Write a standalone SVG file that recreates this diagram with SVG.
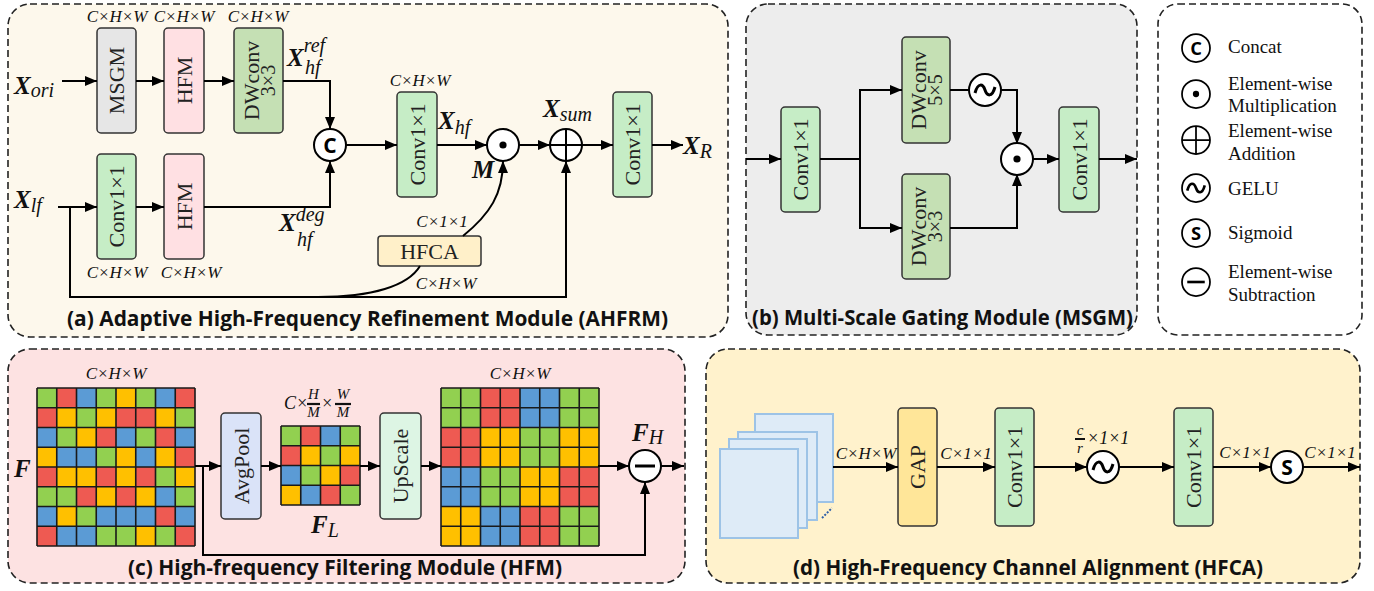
<svg xmlns="http://www.w3.org/2000/svg" xmlns:xlink="http://www.w3.org/1999/xlink" width="1374" height="591" viewBox="0 0 1374 591">
  <style>
    .pane{stroke:#222;stroke-width:1.6;stroke-dasharray:7 4}
    .box{stroke:#333;stroke-width:1.5}
    .conv{fill:#C6EDC6}
    .dw{fill:#C5E0B4}
    .hfm{fill:#FFE0E3}
    .gray{fill:#E6E6E6}
    .lbl{font-family:"Liberation Serif",serif;font-size:22px;fill:#222}
    .dim{font-family:"Liberation Serif",serif;font-style:italic;font-size:17px;fill:#111}
    .mx{font-family:"Liberation Serif",serif;font-style:italic;font-weight:bold;font-size:25px;fill:#111}
    .sub{font-weight:normal;font-size:20px}
    .ttl{font-family:"Open Sans",sans-serif;font-weight:700;font-size:21px;fill:#111}
    .leg{font-family:"Liberation Serif",serif;font-size:19px;fill:#111}
    .wire{fill:none;stroke:#000;stroke-width:2}
    .arr{marker-end:url(#ah)}
    .op{fill:#fff;stroke:#000;stroke-width:2}
    .g{fill:#92D050}.r{fill:#EE5A52}.b{fill:#5B9BD5}.y{fill:#FFC000}
    .grid{fill:none;stroke:#1a1a1a;stroke-width:1.6}
    .sheet{fill:#DEEBF7;stroke:#9DC3E6;stroke-width:2}
  </style>
  <defs>
    <marker id="ah" markerUnits="userSpaceOnUse" markerWidth="12" markerHeight="10" refX="12" refY="5" orient="auto">
      <path d="M0,0 L12,5 L0,10 z" fill="#000"/>
    </marker>
    <g id="o-cat"><circle class="op" r="16"/><text y="7.5" text-anchor="middle" font-family="Open Sans, sans-serif" font-weight="700" font-size="21">C</text></g>
    <g id="o-mul"><circle class="op" r="16"/><circle r="3.6" fill="#000"/></g>
    <g id="o-add"><circle class="op" r="16"/><path d="M-16 0H16M0 -16V16" stroke="#000" stroke-width="2"/></g>
    <g id="o-gelu"><circle class="op" r="16"/><path d="M-10 3C-7 -8 -2 -6 0 0C2 6 7 8 10 -3" fill="none" stroke="#000" stroke-width="3"/></g>
    <g id="o-sig"><circle class="op" r="16"/><text y="7.5" text-anchor="middle" font-family="Open Sans, sans-serif" font-weight="700" font-size="21">S</text></g>
    <g id="o-sub"><circle class="op" r="16"/><path d="M-10 0H10" stroke="#000" stroke-width="3"/></g>
    <path id="lines8" d="M0 0V158M19.75 0V158M39.5 0V158M59.25 0V158M79 0V158M98.75 0V158M118.5 0V158M138.25 0V158M158 0V158M0 0H158M0 19.75H158M0 39.5H158M0 59.25H158M0 79H158M0 98.75H158M0 118.5H158M0 138.25H158M0 158H158"/>
  </defs>

  <!-- panel backgrounds -->
  <rect class="pane" x="8" y="4" width="720" height="333" rx="22" fill="#FDF8EC"/>
  <rect class="pane" x="746" y="4" width="391" height="331" rx="22" fill="#EDEDED"/>
  <rect class="pane" x="1158" y="4" width="204" height="331" rx="20" fill="#fff"/>
  <rect class="pane" x="8" y="349" width="677" height="234" rx="22" fill="#FDE2E2"/>
  <rect class="pane" x="706" y="349" width="654" height="234" rx="22" fill="#FFF2CC"/>

  <!-- (a) AHFRM -->
  <g id="a-msgm"><rect class="box gray" x="97" y="28" width="39" height="105" rx="4"/><text class="lbl" text-anchor="middle" dominant-baseline="central" transform="translate(116.5,80.5) rotate(-90)">MSGM</text><text class="dim" x="117" y="22" text-anchor="middle">C×H×W</text></g>
  <g id="a-hfm1"><rect class="box hfm" x="164" y="28" width="40" height="105" rx="4"/><text class="lbl" text-anchor="middle" dominant-baseline="central" transform="translate(184,80.5) rotate(-90)">HFM</text><text class="dim" x="184" y="22" text-anchor="middle">C×H×W</text></g>
  <g id="a-dw"><rect class="box dw" x="234" y="28" width="49" height="105" rx="4"/><text class="lbl" text-anchor="middle" dominant-baseline="central" transform="translate(258.5,80.5) rotate(-90)"><tspan x="0" y="-8">DWconv</tspan><tspan x="0" y="9" font-size="20">3×3</tspan></text><text class="dim" x="258" y="22" text-anchor="middle">C×H×W</text></g>
  <g id="a-conv1"><rect class="box conv" x="97" y="154" width="39" height="105" rx="4"/><text class="lbl" text-anchor="middle" dominant-baseline="central" transform="translate(116.5,206.5) rotate(-90)">Conv1×1</text><text class="dim" x="117" y="278" text-anchor="middle">C×H×W</text></g>
  <g id="a-hfm2"><rect class="box hfm" x="164" y="154" width="40" height="105" rx="4"/><text class="lbl" text-anchor="middle" dominant-baseline="central" transform="translate(184,206.5) rotate(-90)">HFM</text><text class="dim" x="191" y="278" text-anchor="middle">C×H×W</text></g>
  <g id="a-cat"><use href="#o-cat" x="330" y="145"/></g>
  <g id="a-conv2"><rect class="box conv" x="397" y="92" width="40" height="105" rx="4"/><text class="lbl" text-anchor="middle" dominant-baseline="central" transform="translate(417,144.5) rotate(-90)">Conv1×1</text><text class="dim" x="420" y="86" text-anchor="middle">C×H×W</text></g>
  <g id="a-mul"><use href="#o-mul" x="503" y="145"/></g>
  <g id="a-add"><use href="#o-add" x="566" y="145"/></g>
  <g id="a-conv3"><rect class="box conv" x="613" y="92" width="39" height="105" rx="4"/><text class="lbl" text-anchor="middle" dominant-baseline="central" transform="translate(632.5,144.5) rotate(-90)">Conv1×1</text></g>
  <g id="a-hfca"><rect class="box" x="378" y="236" width="103" height="30" rx="3" fill="#FFF0C9"/><text class="lbl" x="429.5" y="259" text-anchor="middle">HFCA</text><text class="dim" x="442" y="227" text-anchor="middle">C×1×1</text><text class="dim" x="446" y="289" text-anchor="middle">C×H×W</text></g>

  <!-- math labels (a) -->
  <text class="mx" x="14" y="94">X<tspan class="sub" dy="3">ori</tspan></text>
  <text class="mx" x="14" y="208">X<tspan class="sub" dy="4">lf</tspan></text>
  <text class="mx" x="287" y="66">X<tspan class="sub" dy="-14" font-size="19">ref</tspan><tspan class="sub" x="305" y="74" font-size="19">hf</tspan></text>
  <text class="mx" x="279" y="231">X<tspan class="sub" dy="-10" font-size="19">deg</tspan><tspan class="sub" x="297" y="246" font-size="19">hf</tspan></text>
  <text class="mx" x="438" y="129">X<tspan class="sub" dy="5">hf</tspan></text>
  <text class="mx" x="472" y="178" font-size="23">M</text>
  <text class="mx" x="543" y="117">X<tspan class="sub" dy="4">sum</tspan></text>
  <text class="mx" x="683" y="154">X<tspan class="sub" dy="4">R</tspan></text>
  <text class="ttl" x="67" y="326" textLength="601" lengthAdjust="spacingAndGlyphs">(a) Adaptive High-Frequency Refinement Module (AHFRM)</text>

  <!-- (b) MSGM -->
  <g id="b-conv1"><rect class="box conv" x="781" y="107" width="39" height="105" rx="4"/><text class="lbl" text-anchor="middle" dominant-baseline="central" transform="translate(800.5,159.5) rotate(-90)">Conv1×1</text></g>
  <g id="b-dw5"><rect class="box dw" x="902" y="37" width="48" height="106" rx="4"/><text class="lbl" text-anchor="middle" dominant-baseline="central" transform="translate(926,90) rotate(-90)"><tspan x="0" y="-8">DWconv</tspan><tspan x="0" y="9" font-size="20">5×5</tspan></text></g>
  <g id="b-dw3"><rect class="box dw" x="902" y="174" width="48" height="105" rx="4"/><text class="lbl" text-anchor="middle" dominant-baseline="central" transform="translate(926,226.5) rotate(-90)"><tspan x="0" y="-8">DWconv</tspan><tspan x="0" y="9" font-size="20">3×3</tspan></text></g>
  <g id="b-gelu"><use href="#o-gelu" x="985" y="90"/></g>
  <g id="b-mul"><use href="#o-mul" x="1017" y="159"/></g>
  <g id="b-conv2"><rect class="box conv" x="1059" y="107" width="40" height="105" rx="4"/><text class="lbl" text-anchor="middle" dominant-baseline="central" transform="translate(1079,159.5) rotate(-90)">Conv1×1</text></g>
  <text class="ttl" x="752" y="325" textLength="381" lengthAdjust="spacingAndGlyphs">(b) Multi-Scale Gating Module (MSGM)</text>

  <!-- legend -->
  <g id="legend">
    <use href="#o-cat" transform="translate(1196,48) scale(0.875)"/>
    <use href="#o-mul" transform="translate(1196,94) scale(0.875)"/>
    <use href="#o-add" transform="translate(1196,140) scale(0.875)"/>
    <use href="#o-gelu" transform="translate(1196,188) scale(0.875)"/>
    <use href="#o-sig" transform="translate(1196,233) scale(0.875)"/>
    <use href="#o-sub" transform="translate(1196,282) scale(0.875)"/>
    <text class="leg" x="1228" y="53">Concat</text>
    <text class="leg" x="1228" y="90">Element-wise</text>
    <text class="leg" x="1228" y="112">Multiplication</text>
    <text class="leg" x="1228" y="137">Element-wise</text>
    <text class="leg" x="1228" y="160">Addition</text>
    <text class="leg" x="1228" y="195">GELU</text>
    <text class="leg" x="1228" y="239">Sigmoid</text>
    <text class="leg" x="1228" y="278">Element-wise</text>
    <text class="leg" x="1228" y="301">Subtraction</text>
  </g>

  <!-- (c) HFM -->
  <g id="c-feat" transform="translate(37,388)">
    <g transform="translate(0,0)"><rect class="g" x="0" width="19.75" height="19.75"/><rect class="r" x="19.75" width="19.75" height="19.75"/><rect class="b" x="39.5" width="19.75" height="19.75"/><rect class="g" x="59.25" width="19.75" height="19.75"/><rect class="y" x="79" width="19.75" height="19.75"/><rect class="g" x="98.75" width="19.75" height="19.75"/><rect class="b" x="118.5" width="19.75" height="19.75"/><rect class="r" x="138.25" width="19.75" height="19.75"/></g>
    <g transform="translate(0,19.75)"><rect class="r" x="0" width="19.75" height="19.75"/><rect class="y" x="19.75" width="19.75" height="19.75"/><rect class="g" x="39.5" width="19.75" height="19.75"/><rect class="y" x="59.25" width="19.75" height="19.75"/><rect class="r" x="79" width="19.75" height="19.75"/><rect class="r" x="98.75" width="19.75" height="19.75"/><rect class="y" x="118.5" width="19.75" height="19.75"/><rect class="g" x="138.25" width="19.75" height="19.75"/></g>
    <g transform="translate(0,39.5)"><rect class="b" x="0" width="19.75" height="19.75"/><rect class="g" x="19.75" width="19.75" height="19.75"/><rect class="y" x="39.5" width="19.75" height="19.75"/><rect class="r" x="59.25" width="19.75" height="19.75"/><rect class="b" x="79" width="19.75" height="19.75"/><rect class="g" x="98.75" width="19.75" height="19.75"/><rect class="r" x="118.5" width="19.75" height="19.75"/><rect class="b" x="138.25" width="19.75" height="19.75"/></g>
    <g transform="translate(0,59.25)"><rect class="y" x="0" width="19.75" height="19.75"/><rect class="b" x="19.75" width="19.75" height="19.75"/><rect class="b" x="39.5" width="19.75" height="19.75"/><rect class="g" x="59.25" width="19.75" height="19.75"/><rect class="y" x="79" width="19.75" height="19.75"/><rect class="b" x="98.75" width="19.75" height="19.75"/><rect class="y" x="118.5" width="19.75" height="19.75"/><rect class="r" x="138.25" width="19.75" height="19.75"/></g>
    <g transform="translate(0,79)"><rect class="r" x="0" width="19.75" height="19.75"/><rect class="y" x="19.75" width="19.75" height="19.75"/><rect class="y" x="39.5" width="19.75" height="19.75"/><rect class="r" x="59.25" width="19.75" height="19.75"/><rect class="y" x="79" width="19.75" height="19.75"/><rect class="r" x="98.75" width="19.75" height="19.75"/><rect class="g" x="118.5" width="19.75" height="19.75"/><rect class="y" x="138.25" width="19.75" height="19.75"/></g>
    <g transform="translate(0,98.75)"><rect class="g" x="0" width="19.75" height="19.75"/><rect class="g" x="19.75" width="19.75" height="19.75"/><rect class="r" x="39.5" width="19.75" height="19.75"/><rect class="y" x="59.25" width="19.75" height="19.75"/><rect class="r" x="79" width="19.75" height="19.75"/><rect class="y" x="98.75" width="19.75" height="19.75"/><rect class="b" x="118.5" width="19.75" height="19.75"/><rect class="g" x="138.25" width="19.75" height="19.75"/></g>
    <g transform="translate(0,118.5)"><rect class="b" x="0" width="19.75" height="19.75"/><rect class="y" x="19.75" width="19.75" height="19.75"/><rect class="g" x="39.5" width="19.75" height="19.75"/><rect class="b" x="59.25" width="19.75" height="19.75"/><rect class="b" x="79" width="19.75" height="19.75"/><rect class="b" x="98.75" width="19.75" height="19.75"/><rect class="r" x="118.5" width="19.75" height="19.75"/><rect class="b" x="138.25" width="19.75" height="19.75"/></g>
    <g transform="translate(0,138.25)"><rect class="r" x="0" width="19.75" height="19.75"/><rect class="b" x="19.75" width="19.75" height="19.75"/><rect class="b" x="39.5" width="19.75" height="19.75"/><rect class="g" x="59.25" width="19.75" height="19.75"/><rect class="g" x="79" width="19.75" height="19.75"/><rect class="y" x="98.75" width="19.75" height="19.75"/><rect class="g" x="118.5" width="19.75" height="19.75"/><rect class="r" x="138.25" width="19.75" height="19.75"/></g>
    <use href="#lines8" class="grid"/>
  </g>
  <text class="dim" x="116" y="379" text-anchor="middle">C×H×W</text>
  <text class="mx" x="14" y="477" font-size="24">F</text>

  <g id="c-avgpool"><rect class="box" x="221" y="413" width="40" height="106" rx="4" fill="#DAE3F8"/><text class="lbl" text-anchor="middle" dominant-baseline="central" transform="translate(241,466) rotate(-90)">AvgPool</text></g>

  <g id="c-low" transform="translate(281,426)">
    <rect class="g" x="0" y="0" width="19.75" height="19.75"/><rect class="r" x="19.75" y="0" width="19.75" height="19.75"/><rect class="b" x="39.5" y="0" width="19.75" height="19.75"/><rect class="g" x="59.25" y="0" width="19.75" height="19.75"/>
    <rect class="r" x="0" y="19.75" width="19.75" height="19.75"/><rect class="y" x="19.75" y="19.75" width="19.75" height="19.75"/><rect class="g" x="39.5" y="19.75" width="19.75" height="19.75"/><rect class="y" x="59.25" y="19.75" width="19.75" height="19.75"/>
    <rect class="b" x="0" y="39.5" width="19.75" height="19.75"/><rect class="g" x="19.75" y="39.5" width="19.75" height="19.75"/><rect class="y" x="39.5" y="39.5" width="19.75" height="19.75"/><rect class="r" x="59.25" y="39.5" width="19.75" height="19.75"/>
    <rect class="y" x="0" y="59.25" width="19.75" height="19.75"/><rect class="b" x="19.75" y="59.25" width="19.75" height="19.75"/><rect class="r" x="39.5" y="59.25" width="19.75" height="19.75"/><rect class="g" x="59.25" y="59.25" width="19.75" height="19.75"/>
    <path class="grid" d="M0 0V79M19.75 0V79M39.5 0V79M59.25 0V79M79 0V79M0 0H79M0 19.75H79M0 39.5H79M0 59.25H79M0 79H79"/>
  </g>
  <g id="c-frac" class="dim">
    <text x="284" y="409" font-size="18">C×</text>
    <text x="313.5" y="399" text-anchor="middle" font-size="15">H</text>
    <path d="M307 404H320" stroke="#111" stroke-width="2.2"/>
    <text x="313.5" y="417" text-anchor="middle" font-size="15">M</text>
    <text x="321" y="409" font-size="18">×</text>
    <text x="343" y="399" text-anchor="middle" font-size="15">W</text>
    <path d="M335 404H351" stroke="#111" stroke-width="2.2"/>
    <text x="343" y="417" text-anchor="middle" font-size="15">M</text>
  </g>
  <text class="mx" x="311" y="533" font-size="24">F<tspan class="sub" dy="4" font-size="19">L</tspan></text>

  <g id="c-upscale"><rect class="box" x="380" y="413" width="41" height="106" rx="4" fill="#DDF5E4"/><text class="lbl" text-anchor="middle" dominant-baseline="central" transform="translate(400.5,466) rotate(-90)">UpScale</text></g>

  <g id="c-up" transform="translate(441,388)">
    <rect class="g" x="0" y="0" width="39.5" height="39.5"/><rect class="r" x="39.5" y="0" width="39.5" height="39.5"/><rect class="b" x="79" y="0" width="39.5" height="39.5"/><rect class="g" x="118.5" y="0" width="39.5" height="39.5"/>
    <rect class="r" x="0" y="39.5" width="39.5" height="39.5"/><rect class="y" x="39.5" y="39.5" width="39.5" height="39.5"/><rect class="g" x="79" y="39.5" width="39.5" height="39.5"/><rect class="y" x="118.5" y="39.5" width="39.5" height="39.5"/>
    <rect class="b" x="0" y="79" width="39.5" height="39.5"/><rect class="g" x="39.5" y="79" width="39.5" height="39.5"/><rect class="y" x="79" y="79" width="39.5" height="39.5"/><rect class="r" x="118.5" y="79" width="39.5" height="39.5"/>
    <rect class="y" x="0" y="118.5" width="39.5" height="39.5"/><rect class="b" x="39.5" y="118.5" width="39.5" height="39.5"/><rect class="r" x="79" y="118.5" width="39.5" height="39.5"/><rect class="g" x="118.5" y="118.5" width="39.5" height="39.5"/>
    <use href="#lines8" class="grid"/>
  </g>
  <text class="dim" x="520" y="379" text-anchor="middle">C×H×W</text>
  <g id="c-sub"><use href="#o-sub" x="645" y="466"/></g>
  <text class="mx" x="632" y="441" font-size="24">F<tspan class="sub" dy="3" font-size="19">H</tspan></text>
  <text class="ttl" x="128" y="575" textLength="434" lengthAdjust="spacingAndGlyphs">(c) High-frequency Filtering Module (HFM)</text>

  <!-- (d) HFCA -->
  <g id="d-input">
    <rect class="sheet" x="755" y="414" width="78" height="88"/>
    <rect class="sheet" x="738" y="432" width="79" height="88"/>
    <rect class="sheet" x="729" y="439" width="78" height="89"/>
    <rect class="sheet" x="720" y="449" width="78" height="89"/>
    <path d="M822 518L832 508" stroke="#2E5FA8" stroke-width="2" stroke-dasharray="2 1.5"/>
  </g>
  <g id="d-gap"><rect class="box" x="898" y="408" width="39" height="118" rx="4" fill="#FFE699"/><text class="lbl" text-anchor="middle" dominant-baseline="central" transform="translate(917.5,467) rotate(-90)">GAP</text></g>
  <g id="d-conv1"><rect class="box conv" x="995" y="408" width="39" height="118" rx="4"/><text class="lbl" text-anchor="middle" dominant-baseline="central" transform="translate(1014.5,467) rotate(-90)">Conv1×1</text></g>
  <g id="d-gelu"><use href="#o-gelu" x="1103" y="467"/></g>
  <g id="d-conv2"><rect class="box conv" x="1174" y="408" width="39" height="118" rx="4"/><text class="lbl" text-anchor="middle" dominant-baseline="central" transform="translate(1193.5,467) rotate(-90)">Conv1×1</text></g>
  <g id="d-sig"><use href="#o-sig" x="1287" y="467"/></g>
  <text class="dim" x="866" y="459" text-anchor="middle">C×H×W</text>
  <text class="dim" x="966" y="459" text-anchor="middle">C×1×1</text>
  <g class="dim">
    <text x="1080" y="435" text-anchor="middle" font-size="15">c</text>
    <path d="M1075 439H1085" stroke="#111" stroke-width="2"/>
    <text x="1080" y="453" text-anchor="middle" font-size="15">r</text>
    <text x="1087" y="444" font-size="18">×1×1</text>
  </g>
  <text class="dim" x="1245" y="458" text-anchor="middle">C×1×1</text>
  <text class="dim" x="1330" y="458" text-anchor="middle">C×1×1</text>
  <text class="ttl" x="793" y="575" textLength="470" lengthAdjust="spacingAndGlyphs">(d) High-Frequency Channel Alignment (HFCA)</text>

  <!-- connectors -->
  <g id="connectors" class="wire">
    <path class="arr" d="M62 81H97"/>
    <path class="arr" d="M136 81H164"/>
    <path class="arr" d="M204 81H234"/>
    <path class="arr" d="M283 81H330V129"/>
    <path class="arr" d="M58 207H97"/>
    <path class="arr" d="M136 207H164"/>
    <path class="arr" d="M204 207H330V161"/>
    <path class="arr" d="M346 145H397"/>
    <path class="arr" d="M437 145H487"/>
    <path class="arr" d="M519 145H550"/>
    <path class="arr" d="M582 145H613"/>
    <path class="arr" d="M652 145H683"/>
    <path class="arr" d="M70 207V297H566V161"/>
    <path d="M318 297C372 297 408 286 420 266"/>
    <path class="arr" d="M463 236C490 214 503 194 503 161"/>

    <path class="arr" d="M746 159H781"/>
    <path d="M820 159H860"/>
    <path class="arr" d="M860 159V90H902"/>
    <path class="arr" d="M860 159V228H902"/>
    <path d="M950 90H969"/>
    <path class="arr" d="M1001 90H1017V144"/>
    <path class="arr" d="M950 228H1017V174"/>
    <path class="arr" d="M1032 159H1059"/>
    <path class="arr" d="M1099 159H1137"/>

    <path class="arr" d="M195 466H221"/>
    <path class="arr" d="M261 466H281"/>
    <path class="arr" d="M360 466H380"/>
    <path class="arr" d="M421 466H441"/>
    <path class="arr" d="M598 466H629"/>
    <path class="arr" d="M661 466H684"/>
    <path class="arr" d="M203 466V555H645V482"/>

    <path class="arr" d="M833 467H898"/>
    <path class="arr" d="M937 467H995"/>
    <path class="arr" d="M1034 467H1087"/>
    <path class="arr" d="M1119 467H1174"/>
    <path class="arr" d="M1213 467H1271"/>
    <path class="arr" d="M1303 467H1360"/>
  </g>
</svg>
